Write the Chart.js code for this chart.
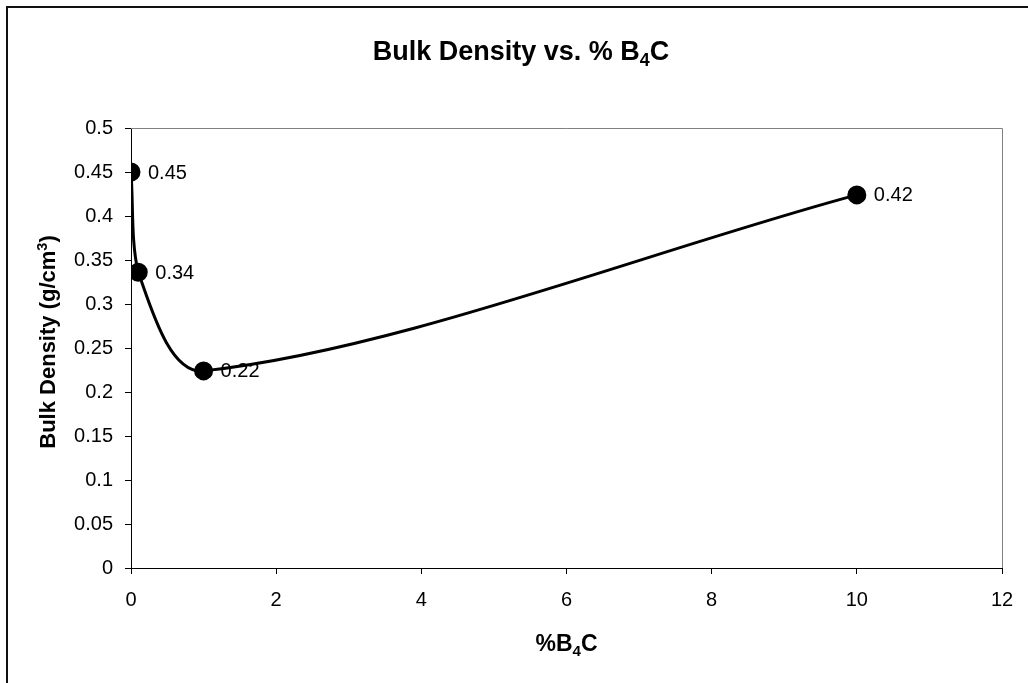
<!DOCTYPE html>
<html>
<head>
<meta charset="utf-8">
<script src="https://cdn.jsdelivr.net/npm/chart.js@4/dist/chart.umd.min.js"></script>
<style>
  html, body { margin: 0; padding: 0; background: #fff; }
  #wrap { width: 1028px; height: 683px; }
</style>
</head>
<body>
<div id="wrap"><canvas id="chart" width="1028" height="683"></canvas></div>
<script>
// % B4C content and measured bulk density
const b4cPercent = [0, 0.1, 1, 10];
const bulkDensity = [0.45, 0.336, 0.224, 0.424];
const xTicks = [0, 2, 4, 6, 8, 10, 12];
const yTicks = [0, 0.05, 0.1, 0.15, 0.2, 0.25, 0.3, 0.35, 0.4, 0.45, 0.5];

const FONT = '"Liberation Sans", Arial, Helvetica, sans-serif';

// draw a run of text pieces; each piece may be normal, sub or sup
function drawRich(ctx, parts, x, y, size, align) {
  const measure = (p) => {
    const s = p.mode ? size * 0.66 : size;
    ctx.font = 'bold ' + s + 'px ' + FONT;
    return ctx.measureText(p.text).width;
  };
  const total = parts.reduce((w, p) => w + measure(p), 0);
  let cx = align === 'center' ? x - total / 2 : x;
  ctx.textAlign = 'left';
  ctx.textBaseline = 'alphabetic';
  for (const p of parts) {
    const s = p.mode ? size * 0.66 : size;
    ctx.font = 'bold ' + s + 'px ' + FONT;
    let dy = 0;
    if (p.mode === 'sub') dy = size * 0.22;
    if (p.mode === 'sup') dy = -size * 0.38;
    ctx.fillText(p.text, cx, y + dy);
    cx += ctx.measureText(p.text).width;
  }
}

const decorations = {
  id: 'decorations',
  beforeDatasetsDraw(chart) {
    const { ctx, chartArea: a } = chart;
    ctx.save();
    // grey frame of the plot area (top and right sides)
    ctx.strokeStyle = '#808080';
    ctx.lineWidth = 1;
    ctx.beginPath();
    ctx.moveTo(a.left, a.top + 0.5);
    ctx.lineTo(a.right + 0.5, a.top + 0.5);
    ctx.lineTo(a.right + 0.5, a.bottom);
    ctx.stroke();
    ctx.restore();
  },
  afterDatasetsDraw(chart) {
    const { ctx } = chart;
    const meta = chart.getDatasetMeta(0);
    ctx.save();
    ctx.fillStyle = '#000';
    ctx.font = '20px ' + FONT;
    ctx.textAlign = 'left';
    ctx.textBaseline = 'middle';
    meta.data.forEach((pt, i) => {
      ctx.fillText(bulkDensity[i].toFixed(2), pt.x + 17, pt.y + 1);
    });
    ctx.restore();
  },
  afterDraw(chart) {
    const { ctx, chartArea: a } = chart;
    ctx.save();
    // outer chart frame
    ctx.strokeStyle = '#111';
    ctx.lineWidth = 2;
    ctx.strokeRect(7, 7, 1040, 700);

    ctx.fillStyle = '#000';
    // chart title
    drawRich(ctx, [
      { text: 'Bulk Density vs. % B' },
      { text: '4', mode: 'sub' },
      { text: 'C' }
    ], 521, 60, 27, 'center');

    // x axis title
    drawRich(ctx, [
      { text: '%B' },
      { text: '4', mode: 'sub' },
      { text: 'C' }
    ], (a.left + a.right) / 2, 651, 23, 'center');

    // y axis title (rotated)
    ctx.translate(55, 342);
    ctx.rotate(-Math.PI / 2);
    drawRich(ctx, [
      { text: 'Bulk Density (g/cm' },
      { text: '3', mode: 'sup' },
      { text: ')' }
    ], 0, 0, 22, 'center');
    ctx.restore();
  }
};

new Chart(document.getElementById('chart'), {
  type: 'scatter',
  data: {
    datasets: [{
      data: b4cPercent.map((x, i) => ({ x, y: bulkDensity[i] })),
      showLine: true,
      tension: 0.32,
      borderColor: '#000',
      borderWidth: 3,
      backgroundColor: '#000',
      pointRadius: 8,
      pointHoverRadius: 8,
      pointBackgroundColor: '#000',
      pointBorderColor: '#000'
    }]
  },
  options: {
    responsive: false,
    animation: false,
    events: [],
    layout: { padding: { left: 0, top: 128, right: 26, bottom: 0 } },
    plugins: {
      legend: { display: false },
      title: { display: false },
      tooltip: { enabled: false }
    },
    scales: {
      x: {
        type: 'linear',
        min: 0,
        max: 12,
        afterFit(scale) { scale.height = 115; },
        afterBuildTicks(scale) { scale.ticks = xTicks.map(v => ({ value: v })); },
        grid: { drawOnChartArea: false, drawTicks: true, tickLength: 6, tickColor: '#000' },
        border: { display: true, color: '#000', width: 1 },
        ticks: {
          color: '#000',
          font: { family: FONT, size: 20 },
          padding: 14,
          maxRotation: 0,
          callback: (v) => String(v)
        }
      },
      y: {
        type: 'linear',
        min: 0,
        max: 0.5,
        afterFit(scale) { scale.width = 131; },
        afterBuildTicks(scale) { scale.ticks = yTicks.map(v => ({ value: v })); },
        grid: { drawOnChartArea: false, drawTicks: true, tickLength: 6, tickColor: '#000' },
        border: { display: true, color: '#000', width: 1 },
        ticks: {
          color: '#000',
          font: { family: FONT, size: 20 },
          padding: 12,
          callback: (v) => String(Number(v.toFixed(2)))
        }
      }
    }
  },
  plugins: [decorations]
});
</script>
</body>
</html>
